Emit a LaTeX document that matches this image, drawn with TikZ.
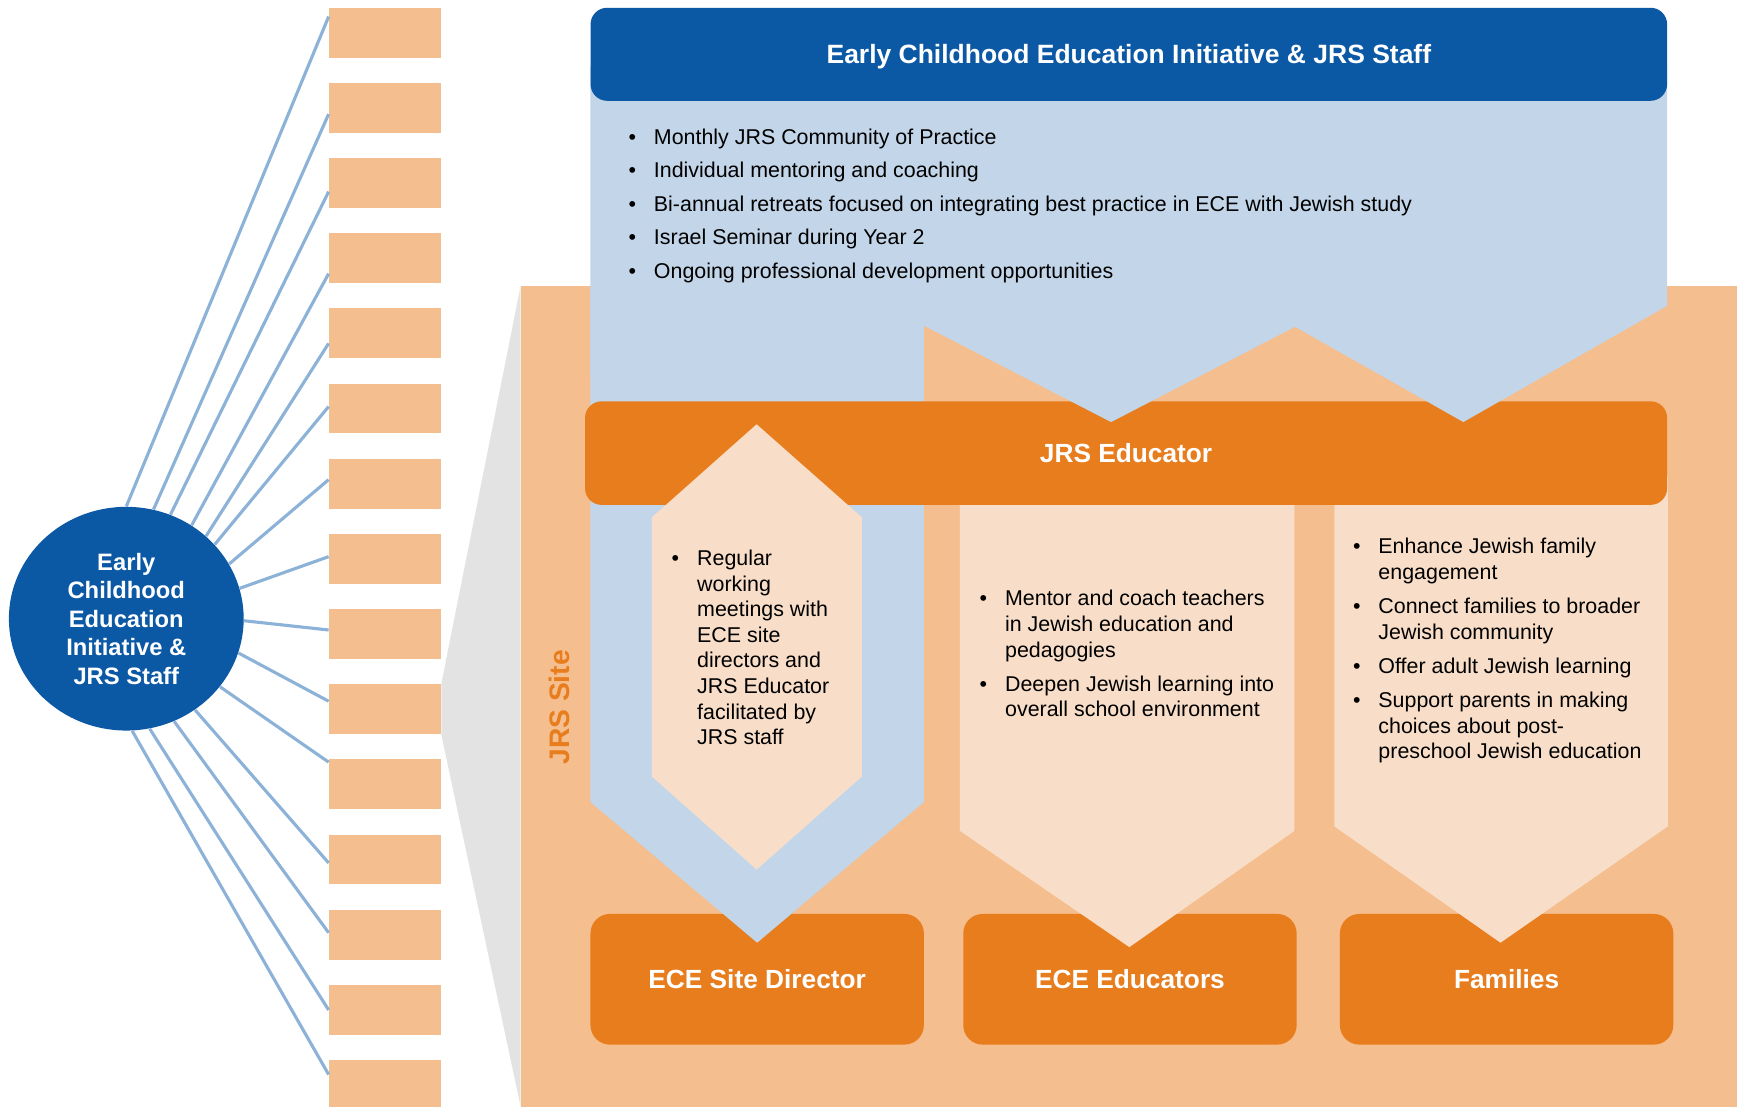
\documentclass[tikz,border=0pt]{standalone}
\usepackage{fontspec}
\setmainfont{Liberation Sans}
\usepackage{xcolor}
\usetikzlibrary{shapes, positioning}

\definecolor{ecedark}{RGB}{11,88,165}
\definecolor{ecepale}{RGB}{195,213,232}
\definecolor{siteorange}{RGB}{244,190,143}
\definecolor{jrsorange}{RGB}{232,125,30}
\definecolor{peach}{RGB}{248,222,200}
\definecolor{callgray}{RGB}{227,227,227}
\definecolor{spoke}{RGB}{140,178,216}

\tikzset{
	sitebox/.style={fill=siteorange, minimum width=2.02cm, minimum height=0.9cm, inner sep=0},
	rolebox/.style={fill=jrsorange, rounded corners=10pt, text=white, inner sep=0,
		font=\bfseries\fontsize{13.5}{16}\selectfont, minimum width=6.02cm, minimum height=2.36cm},
	bulletlist/.style={anchor=base west, inner sep=0, text=black, font=\fontsize{11}{13.15}\selectfont}
}

\begin{document}
\begin{tikzpicture}[x=0.02cm, y=-0.02cm]
			\useasboundingbox (0,0) rectangle (1568,999);
			%% sites and hub
			\foreach \i in {1,...,15} {
				\node [sitebox] (b\i) at (347.5, {29.5+(\i-1)*67.857}) {};
			}
			\node [ellipse, fill=ecedark, text=white, align=center, inner sep=0,
			minimum width=4.24cm, minimum height=4.04cm,
			font=\bfseries\fontsize{12.2}{14.6}\selectfont] (hub) at (114,558.5)
			{Early\\Childhood\\Education\\Initiative \&\\JRS Staff};
			\foreach \i/\a/\ey in {1/90/15, 2/76.5/103, 3/67/173, 4/55.5/247, 5/46.5/310,
				6/40/367, 7/28.5/433, 8/15/502.5, 9/-1/568.7, 10/-17.8/633,
				11/-36.2/688, 12/-53.6/779, 13/-65.7/842, 14/-78.4/911.7, 15/-87.2/970} {
				\draw [spoke, line width=1.6pt] (hub.\a) -- (b\i.west |- 0,\ey);
			}
			
			%% zoomed site
			\fill [siteorange] (470,258) rectangle (1568,999);
			\fill [callgray] (b10.north east) -- (470,258) -- (470,999) -- (b10.south east) -- cycle;
			\node [rotate=90, text=jrsorange, font=\bfseries\fontsize{14.5}{17}\selectfont]
			(sitelabel) at (505,638.5) {JRS Site};
			
			\node [rolebox] (director) at (683.5,884) {ECE Site Director};
			\node [rolebox] (educators) at (1020,884) {ECE Educators};
			\node [rolebox] (families) at (1360,884) {Families};
			
			\fill [ecepale] (533,258) -- (834,258) -- (834,724) -- (683.5,851) -- (533,724) -- cycle;
			\fill [peach] (866.5,430) -- (1168.5,430) -- (1168.5,750) -- (1019.5,855) -- (866.5,750) -- cycle;
			\fill [peach] (1204.5,430) -- (1505.5,430) -- (1505.5,746) -- (1354.5,851) -- (1204.5,746) -- cycle;
			
			\node [fill=jrsorange, rounded corners=8.5pt, text=white, minimum width=19.54cm,
			minimum height=1.87cm, font=\bfseries\fontsize{13.5}{16}\selectfont]
			(educator) at (1016.5,409) {JRS Educator};
			
			\fill [ecepale] (533,60) -- (1505,60) -- (1505,276) -- (1321,381) -- (1169,295)
			-- (1003,381) -- (834,294) -- (834,340) -- (533,340) -- cycle;
			\node [fill=ecedark, rounded corners=8.5pt, text=white, minimum width=19.44cm,
			minimum height=1.68cm, text depth=0pt, font=\bfseries\fontsize{13.6}{16}\selectfont]
			(initiative) at (1019,49) {Early Childhood Education Initiative \& JRS Staff};
			
			\fill [peach] (683,383) -- (778,467) -- (778,701) -- (683,785) -- (588.5,701) -- (588.5,467) -- cycle;
			
			%% bullet texts
			\node [bulletlist] (toplist) at (567,130) {\begin{tabular}[t]{@{}p{0.46cm}@{}l@{}}
					\textbullet & Monthly JRS Community of Practice\\[4.1pt]
					\textbullet & Individual mentoring and coaching\\[4.1pt]
					\textbullet & Bi-annual retreats focused on integrating best practice in ECE with Jewish study\\[4.1pt]
					\textbullet & Israel Seminar during Year 2\\[4.1pt]
					\textbullet & Ongoing professional development opportunities
			\end{tabular}};
			\node [bulletlist] (dirlist) at (606,510.5) {\begin{tabular}[t]{@{}p{0.46cm}@{}l@{}}
					\textbullet & Regular\\ & working\\ & meetings with\\ & ECE site\\
					& directors and\\ & JRS Educator\\ & facilitated by\\ & JRS staff
			\end{tabular}};
			\node [bulletlist] (edulist) at (884,547) {\begin{tabular}[t]{@{}p{0.46cm}@{}l@{}}
					\textbullet & Mentor and coach teachers\\ & in Jewish education and\\ & pedagogies\\[4.4pt]
					\textbullet & Deepen Jewish learning into\\ & overall school environment
			\end{tabular}};
			\node [bulletlist] (famlist) at (1221,500) {\begin{tabular}[t]{@{}p{0.46cm}@{}l@{}}
					\textbullet & Enhance Jewish family\\ & engagement\\[4.4pt]
					\textbullet & Connect families to broader\\ & Jewish community\\[4.4pt]
					\textbullet & Offer adult Jewish learning\\[4.4pt]
					\textbullet & Support parents in making\\ & choices about post-\\ & preschool Jewish education
			\end{tabular}};
		\end{tikzpicture}
\end{document}
